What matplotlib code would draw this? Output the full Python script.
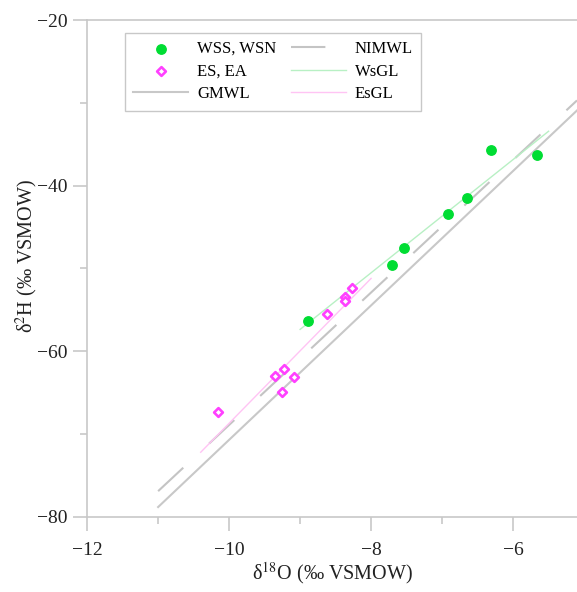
import numpy as np
import matplotlib
matplotlib.use("Agg")
import matplotlib.pyplot as plt
from matplotlib.ticker import MultipleLocator

plt.rcParams['font.family'] = ['Liberation Serif', 'DejaVu Serif']
plt.rcParams['mathtext.fontset'] = 'stix'

# Data
ws_x = [-8.89, -7.70, -7.54, -6.92, -6.65, -6.31, -5.66]
ws_y = [-56.3, -49.6, -47.5, -43.4, -41.5, -35.7, -36.3]
es_x = [-10.15, -9.35, -9.23, -9.09, -9.25, -8.62, -8.37, -8.37, -8.27]
es_y = [-67.3, -63.0, -62.1, -63.1, -64.9, -55.5, -53.5, -53.9, -52.4]

# Lines: (slope, intercept, x_start, x_end)
gmwl = (8.12, 10.5, -11.0, -5.1)
nimwl = (8.0, 11.1, -11.0, -5.1)
wsgl = (6.84, 4.2, -9.0, -5.5)
esgl = (8.75, 18.8, -10.4, -8.0)

fig = plt.figure(figsize=(5.77, 5.92), dpi=100)
ax = fig.add_axes([0.151, 0.127, 0.849, 0.839])

def line(p):
    x = np.array([p[2], p[3]])
    return x, p[0] * x + p[1]

x, y = line(gmwl)
ax.plot(x, y, color='#c8c8c8', lw=1.5, label='GMWL', zorder=2)
x, y = line(nimwl)
ax.plot(x, y, color='#c4c4c4', lw=1.5, dashes=(16.5, 17.0), label='NIMWL', zorder=2)
x, y = line(wsgl)
ax.plot(x, y, color='#b8f0c4', lw=1.0, label='WsGL', zorder=2)
x, y = line(esgl)
ax.plot(x, y, color='#ffc4f4', lw=1.0, label='EsGL', zorder=2)

ax.scatter(ws_x, ws_y, s=46, color='#00dd33', label='WSS, WSN', zorder=4)
ax.scatter(es_x, es_y, s=20, marker='D', facecolor='white', edgecolor='#ff40ff',
           linewidth=1.9, label='ES, EA', zorder=4)

ax.set_xlim(-12, -5.1)
ax.set_ylim(-80, -20)
ax.xaxis.set_major_locator(MultipleLocator(2))
ax.xaxis.set_minor_locator(MultipleLocator(1))
ax.yaxis.set_major_locator(MultipleLocator(20))
ax.yaxis.set_minor_locator(MultipleLocator(10))

for s in ['left', 'bottom', 'top']:
    ax.spines[s].set_color('#c8c8c8')
    ax.spines[s].set_linewidth(1.2)
ax.spines['right'].set_visible(False)
ax.tick_params(which='major', direction='out', length=10, width=1.2, color='#c8c8c8',
               labelsize=14, labelcolor='#222222')
ax.tick_params(which='minor', direction='out', length=5, width=1.2, color='#c8c8c8')
ax.tick_params(axis='y', which='major', pad=4)
ax.tick_params(axis='x', which='major', pad=8)

ax.set_xlabel('δ$^{18}$O (‰ VSMOW)', fontsize=14.5, color='#222222', labelpad=1)
ax.set_ylabel('δ$^{2}$H (‰ VSMOW)', fontsize=14.5, color='#222222', labelpad=2)
ax.yaxis.set_label_coords(-0.097, 0.525)

handles, labels = ax.get_legend_handles_labels()
hd = dict(zip(labels, handles))
order = ['WSS, WSN', 'ES, EA', 'GMWL', 'NIMWL', 'WsGL', 'EsGL']
leg = ax.legend([hd[k] for k in order], order, ncol=2, loc='upper left',
                bbox_to_anchor=(0.077, 0.975), borderaxespad=0, fontsize=12, frameon=True,
                fancybox=False, edgecolor='#bbbbbb', handlelength=3.3,
                columnspacing=0.85, labelspacing=0.4, borderpad=0.5, handletextpad=0.55)
leg.get_frame().set_linewidth(1.0)

fig.savefig('out.png', dpi=100)
